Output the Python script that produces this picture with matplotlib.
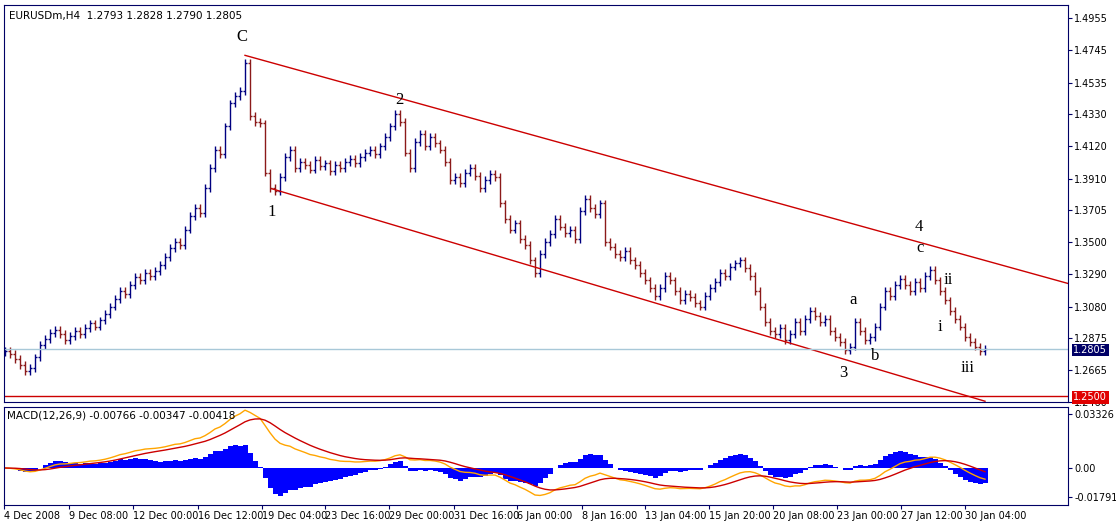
import matplotlib.pyplot as plt
import numpy as np

# closes, one bar every ~5 px of the reference
closes = [
    1.279, 1.277, 1.274, 1.270, 1.266, 1.268, 1.275, 1.283, 1.287, 1.291,
    1.293, 1.290, 1.286, 1.289, 1.292, 1.290, 1.294, 1.297, 1.295, 1.299,
    1.303, 1.308, 1.313, 1.318, 1.316, 1.322, 1.327, 1.325, 1.330, 1.328,
    1.331, 1.335, 1.340, 1.346, 1.350, 1.348, 1.358, 1.367, 1.372, 1.369,
    1.385, 1.398, 1.410, 1.407, 1.425, 1.440, 1.445, 1.448, 1.466, 1.432,
    1.428, 1.427, 1.395, 1.385, 1.383, 1.392, 1.405, 1.410, 1.398, 1.402,
    1.400, 1.397, 1.403, 1.399, 1.401, 1.396, 1.400, 1.398, 1.402, 1.404,
    1.401, 1.405, 1.408, 1.410, 1.407, 1.412, 1.418, 1.425, 1.433, 1.428,
    1.408, 1.398, 1.415, 1.420, 1.412, 1.418, 1.414, 1.410, 1.402, 1.390,
    1.392, 1.388, 1.395, 1.398, 1.393, 1.385, 1.390, 1.394, 1.392, 1.375,
    1.365, 1.358, 1.362, 1.352, 1.348, 1.338, 1.330, 1.342, 1.350, 1.355,
    1.365, 1.360, 1.356, 1.358, 1.352, 1.370, 1.378, 1.372, 1.368, 1.375,
    1.350, 1.347, 1.342, 1.340, 1.344, 1.338, 1.335, 1.330, 1.325, 1.320,
    1.315, 1.320, 1.328, 1.325, 1.318, 1.312, 1.316, 1.314, 1.310, 1.308,
    1.315, 1.320, 1.324, 1.330, 1.328, 1.334, 1.336, 1.338, 1.333, 1.328,
    1.318, 1.308, 1.298, 1.292, 1.290, 1.294, 1.286, 1.290, 1.298, 1.292,
    1.300, 1.305, 1.302, 1.298, 1.300, 1.292, 1.288, 1.285, 1.280, 1.282,
    1.298, 1.292, 1.286, 1.288, 1.295, 1.308, 1.318, 1.315, 1.322, 1.326,
    1.322, 1.318, 1.324, 1.320, 1.328, 1.332, 1.325, 1.318, 1.312, 1.305,
    1.300, 1.295, 1.288, 1.285, 1.282, 1.279, 1.2805,
]
first_open = 1.2785
wick = 0.0025

price_ticks = [1.4955, 1.4745, 1.4535, 1.4330, 1.4120, 1.3910, 1.3705,
               1.3500, 1.3290, 1.3080, 1.2875, 1.2665, 1.2460]
time_labels = ["4 Dec 2008", "9 Dec 08:00", "12 Dec 00:00", "16 Dec 12:00",
               "19 Dec 04:00", "23 Dec 16:00", "29 Dec 00:00", "31 Dec 16:00",
               "6 Jan 00:00", "8 Jan 16:00", "13 Jan 04:00", "15 Jan 20:00",
               "20 Jan 08:00", "23 Jan 00:00", "27 Jan 12:00", "30 Jan 04:00"]
time_ticks_px = [4, 69, 133, 198, 262, 325, 389, 454, 517, 582, 645, 709,
                 773, 837, 901, 965]

# channel lines (bar index, price)
upper_ch = [(48.0, 1.4712), (212.6, 1.3230)]
lower_ch = [(53.4, 1.3845), (196.0, 1.2465)]
support = 1.2500
last_price = 1.2805

waves = [("C", 47.4, 1.4830), ("1", 53.4, 1.3695), ("2", 78.8, 1.4420),
         ("3", 167.6, 1.2650), ("4", 182.8, 1.3600), ("a", 169.6, 1.3120),
         ("b", 174.0, 1.2760), ("c", 183.0, 1.3460), ("i", 187.0, 1.2950),
         ("ii", 188.6, 1.3250), ("iii", 192.6, 1.2680)]

closes = np.array(closes)
opens = np.concatenate([[first_open], closes[:-1]])
highs = np.maximum(opens, closes) + wick
lows = np.minimum(opens, closes) - wick
idx = np.arange(len(closes))

def ema(x, n):
    out = np.empty_like(x)
    k = 2 / (n + 1)
    out[0] = x[0]
    for i in range(1, len(x)):
        out[i] = x[i] * k + out[i - 1] * (1 - k)
    return out

macd = ema(closes, 12) - ema(closes, 26)
signal = ema(macd, 9)
hist = 2 * (macd - signal)

W, H = 1116, 522
fig = plt.figure(figsize=(W / 100, H / 100), dpi=100)
fig.patch.set_facecolor("white")
xl, xr = 4, 1068
ax = fig.add_axes([xl / W, 1 - 402 / H, (xr - xl) / W, (402 - 5) / H])
mx = fig.add_axes([xl / W, 1 - 505 / H, (xr - xl) / W, (505 - 407) / H])

def px2x(px):
    return (px - 5) / 5.0

xlim = (px2x(xl), px2x(xr))
navy = "#000066"
fs = 7
for a in (ax, mx):
    a.set_xlim(*xlim)
    for s in a.spines.values():
        s.set_color(navy)
    a.yaxis.tick_right()
    a.tick_params(axis="y", colors=navy, labelcolor="black", labelsize=fs,
                  length=3, pad=1.5)

up_c, dn_c = "#000080", "#8b1a1a"
cols = [up_c if c >= o else dn_c for o, c in zip(opens, closes)]
ax.vlines(idx, lows, highs, colors=cols, lw=1)
ax.hlines(opens, idx - 0.4, idx, colors=cols, lw=1)
ax.hlines(closes, idx, idx + 0.4, colors=cols, lw=1)

ax.plot(*zip(*upper_ch), color="#cc0000", lw=1)
ax.plot(*zip(*lower_ch), color="#cc0000", lw=1)
ax.axhline(support, color="#cc0000", lw=1)
ax.axhline(last_price, color="#a8c8d8", lw=1)

for t, x, y in waves:
    ax.text(x, y, t, family="Liberation Serif", fontsize=12, ha="center",
            va="center")

ylo, yhi = 1.2468, 1.5039
ax.set_ylim(ylo, yhi)
ax.set_yticks(price_ticks)
ax.set_yticklabels([f"{v:.4f}" for v in price_ticks])
ax.set_xticks([])
ax.text(0.005, 0.985, "EURUSDm,H4  1.2793 1.2828 1.2790 1.2805",
        transform=ax.transAxes, fontsize=7.5, va="top")
ax.text(1.005, (last_price - ylo) / (yhi - ylo), f"{last_price:.4f}",
        transform=ax.transAxes, fontsize=fs, va="center", color="white",
        bbox=dict(boxstyle="square,pad=0.15", fc="#000066", ec="none"))
ax.text(1.005, (support - ylo) / (yhi - ylo), f"{support:.4f}",
        transform=ax.transAxes, fontsize=fs, va="center", color="white",
        bbox=dict(boxstyle="square,pad=0.15", fc="#e00000", ec="none"))

mx.bar(idx, hist, width=1.0, color="#0000ff", lw=0)
mx.plot(idx, macd, color="#ffa500", lw=1)
mx.plot(idx, signal, color="#cc0000", lw=1)
mx.set_ylim(-0.0228, 0.0376)
mx.set_yticks([0.03326, 0.0, -0.01791])
mx.set_yticklabels(["0.03326", "0.00", "-0.01791"])
mx.set_xticks([px2x(p) for p in time_ticks_px])
mx.set_xticklabels(time_labels, ha="left", fontsize=fs)
mx.tick_params(axis="x", colors=navy, labelcolor="black", length=3, pad=1)
mx.text(0.003, 0.96, "MACD(12,26,9) -0.00766 -0.00347 -0.00418",
        transform=mx.transAxes, fontsize=7.5, va="top")

fig.savefig("out.png", dpi=100)
